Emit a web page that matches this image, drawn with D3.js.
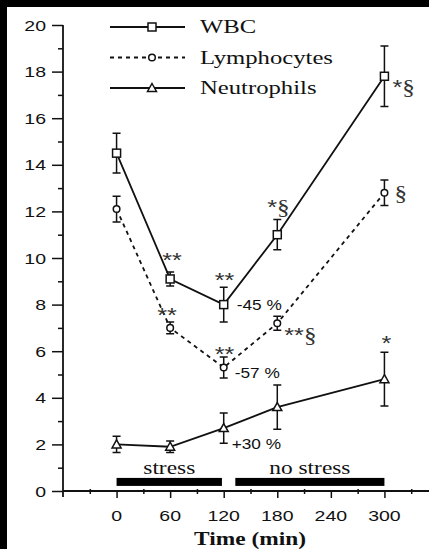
<!DOCTYPE html>
<html>
<head>
<meta charset="utf-8">
<script src="https://cdn.jsdelivr.net/npm/d3@7"></script>
<style>
  html, body { margin: 0; padding: 0; background: #000; }
  #graph { width: 429px; height: 549px; }
</style>
</head>
<body>
<div id="graph"></div>
<script>
/* data */
var times = [0, 60, 120, 180, 300];
var seriesNames = ["WBC", "Lymphocytes", "Neutrophils"];
var wbcMean = [14.5, 9.1, 8.0, 11.0, 17.8];
var wbcErr = [0.85, 0.3, 0.75, 0.65, 1.3];
var lymMean = [12.1, 7.0, 5.3, 7.2, 12.8];
var lymErr = [0.55, 0.25, 0.45, 0.3, 0.55];
var neuMean = [2.0, 1.9, 2.7, 3.6, 4.8];
var neuErr = [0.35, 0.25, 0.65, 0.95, 1.15];
var yTicks = [0, 2, 4, 6, 8, 10, 12, 14, 16, 18, 20];
var xTicks = [0, 60, 120, 180, 240, 300];
var phaseLabels = ["stress", "no stress"];
var phaseStart = [0, 133];
var phaseEnd = [118, 300];
// [series index, time index, text]
var notes = [
  [0, 1, "**"], [1, 1, "**"], [0, 2, "**"], [1, 2, "**"],
  [0, 3, "*§"], [1, 3, "**§"], [0, 4, "*§"], [1, 4, "§"], [2, 4, "*"]
];
var pctNotes = [[0, 2, "-45 %"], [1, 2, "-57 %"], [2, 2, "+30 %"]];

/* layout */
var fullWidth = 429;
var fullHeight = 549;
var stretch = 1.3;
var sansFont = "'Liberation Sans', Arial, sans-serif";
var serifFont = "'Liberation Serif', 'Times New Roman', serif";
var noteOffsets = [[-8, -12], [-13, -6], [-9, -18], [-9, -7], [-10, -21], [7, 19], [8, 18], [10, 7], [-3, -29]];
var pctOffsets = [[13, 5], [11, 10], [8, 21]];

var x = d3.scaleLinear().domain([-60, 360]).range([63, 438]);
var y = d3.scaleLinear().domain([0, 20]).range([491, 25]);

var series = [
  { name: seriesNames[0], mean: wbcMean, err: wbcErr, dash: null, marker: "square" },
  { name: seriesNames[1], mean: lymMean, err: lymErr, dash: "4,4", marker: "circle" },
  { name: seriesNames[2], mean: neuMean, err: neuErr, dash: null, marker: "triangle" }
];

var palette = d3.select("#graph").append("svg")
  .attr("width", fullWidth)
  .attr("height", fullHeight);

palette.append("rect")
  .attr("x", 7).attr("y", 7)
  .attr("width", fullWidth - 7).attr("height", fullHeight - 7)
  .attr("fill", "#fff");

/*******************************************************************************
* @method stretchedText
* draws text squeezed wider, like the scanned figure.
*******************************************************************************/
function stretchedText(g, px, py, str, font, size, anchor, weight){
  return g.append("text")
    .attr("transform", "translate(" + px + "," + py + ") scale(" + stretch + ",1)")
    .attr("font-family", font)
    .attr("font-size", size)
    .attr("font-weight", weight || "normal")
    .attr("text-anchor", anchor || "start")
    .attr("fill", "#111")
    .text(str);
}

/*******************************************************************************
* @method drawMarker
*******************************************************************************/
function drawMarker(g, kind, cx, cy){
  if(kind === "square"){
    g.append("rect").attr("x", cx - 4).attr("y", cy - 4).attr("width", 8).attr("height", 8)
      .attr("fill", "#fff").attr("stroke", "#111").attr("stroke-width", 1.5);
  } else if(kind === "circle"){
    g.append("circle").attr("cx", cx).attr("cy", cy).attr("r", 3.3)
      .attr("fill", "#fff").attr("stroke", "#111").attr("stroke-width", 1.5);
  } else {
    g.append("path").attr("d", "M" + cx + "," + (cy - 4.5) + "L" + (cx + 4.5) + "," + (cy + 3.5) + "L" + (cx - 4.5) + "," + (cy + 3.5) + "Z")
      .attr("fill", "#fff").attr("stroke", "#111").attr("stroke-width", 1.5);
  }
}

var axisGroup = palette.append("g");
var phaseGroup = palette.append("g");
var lineGroup = palette.append("g");
var noteGroup = palette.append("g");
var legendGroup = palette.append("g");

// y axis
var yAxis = d3.axisLeft(y).tickValues(d3.range(0, 21, 1)).tickSize(5).tickFormat("");
axisGroup.append("g").attr("transform", "translate(63,0)").call(yAxis)
  .call(function(g){
    g.select(".domain").remove();
    g.selectAll(".tick line").attr("stroke", "#111").attr("stroke-width", 1.5)
      .attr("x2", function(d){ return d % 2 === 0 ? -11 : -5; });
  });
axisGroup.append("line").attr("x1", 63).attr("x2", 63).attr("y1", y(20)).attr("y2", y(0) + 6)
  .attr("stroke", "#111").attr("stroke-width", 1.8);
yTicks.forEach(function(v){
  stretchedText(axisGroup, 46, y(v) + 5.5, v, sansFont, 15, "end");
});

// x axis
var xAxis = d3.axisBottom(x).tickValues(d3.range(-30, 360, 30)).tickSize(5).tickFormat("");
axisGroup.append("g").attr("transform", "translate(0," + y(0) + ")").call(xAxis)
  .call(function(g){
    g.select(".domain").remove();
    g.selectAll(".tick line").attr("stroke", "#111").attr("stroke-width", 1.5)
      .attr("y1", function(d){ return d % 60 === 0 ? -1 : -2; })
      .attr("y2", function(d){ return d % 60 === 0 ? 7 : 3; });
  });
axisGroup.append("line").attr("x1", 63).attr("x2", fullWidth).attr("y1", y(0)).attr("y2", y(0))
  .attr("stroke", "#111").attr("stroke-width", 1.8);
xTicks.forEach(function(t){
  stretchedText(axisGroup, x(t), 521, t, sansFont, 15, "middle");
});
stretchedText(axisGroup, 250, 545, "Time (min)", serifFont, 18, "middle", "bold");

// stress bars
phaseLabels.forEach(function(label, i){
  phaseGroup.append("rect")
    .attr("x", x(phaseStart[i])).attr("y", y(0.39) - 4)
    .attr("width", x(phaseEnd[i]) - x(phaseStart[i])).attr("height", 8)
    .attr("fill", "#000");
  stretchedText(phaseGroup, (x(phaseStart[i]) + x(phaseEnd[i])) / 2, 474, label, serifFont, 18, "middle");
});

// series
var line = d3.line().x(function(d){ return x(d[0]); }).y(function(d){ return y(d[1]); });
series.forEach(function(s){
  var pts = times.map(function(t, i){ return [t, s.mean[i]]; });
  lineGroup.append("path").attr("d", line(pts))
    .attr("fill", "none").attr("stroke", "#111").attr("stroke-width", 1.8)
    .attr("stroke-dasharray", s.dash);
  times.forEach(function(t, i){
    var cx = x(t), top = y(s.mean[i] + s.err[i]), bot = y(s.mean[i] - s.err[i]);
    lineGroup.append("path")
      .attr("d", "M" + cx + "," + top + "V" + bot + "M" + (cx - 4) + "," + top + "H" + (cx + 4) + "M" + (cx - 4) + "," + bot + "H" + (cx + 4))
      .attr("fill", "none").attr("stroke", "#111").attr("stroke-width", 1.5);
    drawMarker(lineGroup, s.marker, cx, y(s.mean[i]));
  });
});

// significance marks
notes.forEach(function(n, k){
  var s = series[n[0]];
  var px = x(times[n[1]]) + noteOffsets[k][0];
  var py = y(s.mean[n[1]]) + noteOffsets[k][1];
  var txt = noteGroup.append("text")
    .attr("transform", "translate(" + px + "," + py + ") scale(1.2,1)")
    .attr("fill", "#333");
  n[2].split("").forEach(function(ch){
    txt.append("tspan")
      .attr("font-family", ch === "§" ? serifFont : sansFont)
      .attr("font-size", 21)
      .text(ch);
  });
});
pctNotes.forEach(function(n, k){
  var s = series[n[0]];
  var px = x(times[n[1]]) + pctOffsets[k][0];
  var py = y(s.mean[n[1]]) + pctOffsets[k][1];
  noteGroup.append("text")
    .attr("transform", "translate(" + px + "," + py + ") scale(1.15,1)")
    .attr("font-family", sansFont).attr("font-size", 15)
    .attr("fill", "#111").text(n[2]);
});

// legend
series.forEach(function(s, i){
  var ly = 27 + i * 30.5;
  legendGroup.append("line").attr("x1", 110).attr("x2", 185).attr("y1", ly).attr("y2", ly)
    .attr("stroke", "#111").attr("stroke-width", 1.8).attr("stroke-dasharray", s.dash);
  drawMarker(legendGroup, s.marker, 152, ly);
  stretchedText(legendGroup, 200, ly + 6, s.name, serifFont, 19, "start");
});
</script>
</body>
</html>
